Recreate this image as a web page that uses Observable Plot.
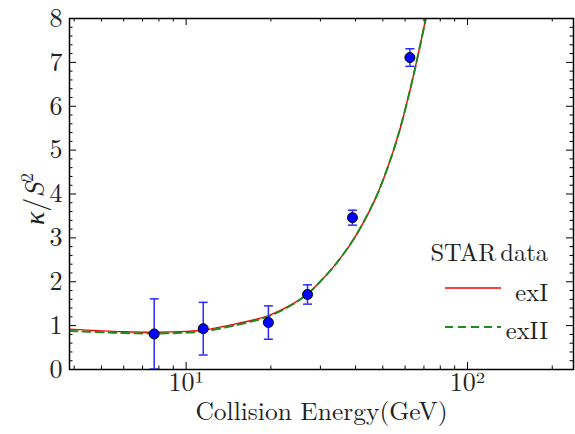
<!DOCTYPE html>
<html>
<head>
<meta charset="utf-8">
<script src="https://cdn.jsdelivr.net/npm/d3@7"></script>
<script src="https://cdn.jsdelivr.net/npm/@observablehq/plot@0.6"></script>
<style>
  html, body { margin: 0; padding: 0; background: white; }
  #wrap { position: relative; width: 575px; height: 434px; font-family: "Latin Modern Roman", "Liberation Serif", serif; }
  #wrap svg text, #wrap svg tspan { font-family: "Latin Modern Roman", "Liberation Serif", serif !important; }
  #legsvg { position: absolute; left: 0; top: 0; }
</style>
</head>
<body>
<div id="wrap"></div>
<script>
// STAR data points
const energy = [7.7, 11.5, 19.6, 27, 39, 62.4];
const kappa = [0.81, 0.93, 1.07, 1.71, 3.46, 7.11];
const kappaErr = [0.8, 0.6, 0.38, 0.22, 0.17, 0.2];

// model curves
const curveEnergy = [3.85, 5, 6, 7.7, 10, 11.5, 15, 19.6, 24, 27, 29.8, 33, 39.1, 46.7, 52, 57.3, 62.9, 67.4, 70.8, 72.5];
const exI  = [0.92, 0.88, 0.86, 0.85, 0.87, 0.90, 1.04, 1.23, 1.50, 1.72, 1.99, 2.30, 2.94, 3.85, 4.60, 5.44, 6.45, 7.30, 7.95, 8.30];
const exII = [0.88, 0.85, 0.83, 0.82, 0.84, 0.87, 1.01, 1.21, 1.49, 1.72, 1.99, 2.30, 2.94, 3.85, 4.60, 5.44, 6.45, 7.30, 7.95, 8.30];

// ticks
const yMajor = [0, 1, 2, 3, 4, 5, 6, 7, 8];
const yMinor = d3.range(0, 8.001, 0.2).filter(v => Math.abs(v - Math.round(v)) > 1e-6);
const xMajor = [10, 100];
const xMajorLabels = ["10¹", "10²"];
const xMinor = [4, 5, 6, 7, 8, 9, 20, 30, 40, 50, 60, 70, 80, 90, 200];

const FONT = "Latin Modern Roman, Liberation Serif, serif";
const W = 575, H = 434;
const mL = 69, mR = 2, mT = 18, mB = 65;
const pw = W - mL - mR, ph = H - mT - mB;

const points = energy.map((e, i) => ({e, k: kappa[i], lo: kappa[i] - kappaErr[i], hi: kappa[i] + kappaErr[i]}));
const c1 = curveEnergy.map((e, i) => ({e, v: exI[i]}));
const c2 = curveEnergy.map((e, i) => ({e, v: exII[i]}));

const capSymbol = {
  draw(ctx, size) {
    const w = Math.sqrt(size / Math.PI);
    ctx.moveTo(-w, 0);
    ctx.lineTo(w, 0);
  }
};

const blue = "#0000ff";
const errBlue = "#2a2aff";
const textColor = "#222";

const plot = Plot.plot({
  width: W, height: H,
  marginLeft: mL, marginRight: mR, marginTop: mT, marginBottom: mB,
  x: {type: "log", domain: [3.85, 238]},
  y: {domain: [0, 8]},
  style: {fontSize: "26px", background: "white", color: textColor, overflow: "visible"},
  marks: [
    // curves
    Plot.line(c1, {x: "e", y: "v", stroke: "#ff0000", strokeWidth: 1.4, curve: "catmull-rom", clip: true}),
    Plot.line(c2, {x: "e", y: "v", stroke: "#1f8a1f", strokeWidth: 2, strokeDasharray: "8,5", curve: "catmull-rom", clip: true}),
    // error bars
    Plot.ruleX(points, {x: "e", y1: "lo", y2: "hi", stroke: errBlue, strokeWidth: 1.5, clip: true}),
    Plot.dot(points, {x: "e", y: "hi", symbol: capSymbol, r: 4.5, stroke: errBlue, strokeWidth: 1.5, fill: "none"}),
    Plot.dot(points, {x: "e", y: "lo", symbol: capSymbol, r: 4.5, stroke: errBlue, strokeWidth: 1.5, fill: "none", clip: true}),
    Plot.dot(points, {x: "e", y: "k", r: 5, fill: blue, stroke: "black", strokeWidth: 1}),
    // inward ticks: left / right
    Plot.tickY(yMajor, {y: d => d, insetRight: pw - 7, stroke: "black", strokeWidth: 1}),
    Plot.tickY(yMajor, {y: d => d, insetLeft: pw - 7, stroke: "black", strokeWidth: 1}),
    Plot.tickY(yMinor, {y: d => d, insetRight: pw - 3.5, stroke: "black", strokeWidth: 1}),
    Plot.tickY(yMinor, {y: d => d, insetLeft: pw - 3.5, stroke: "black", strokeWidth: 1}),
    // inward ticks: bottom / top
    Plot.tickX(xMajor, {x: d => d, insetTop: ph - 7, stroke: "black", strokeWidth: 1}),
    Plot.tickX(xMajor, {x: d => d, insetBottom: ph - 7, stroke: "black", strokeWidth: 1}),
    Plot.tickX(xMinor, {x: d => d, insetTop: ph - 3.5, stroke: "black", strokeWidth: 1}),
    Plot.tickX(xMinor, {x: d => d, insetBottom: ph - 3.5, stroke: "black", strokeWidth: 1}),
    Plot.frame({stroke: "black", strokeWidth: 1.5}),
    // axis labels
    Plot.axisY({ticks: yMajor, tickSize: 0, tickPadding: 7, tickFormat: d => String(d), label: null, fontSize: 26, fontFamily: FONT}),
    Plot.axisX({ticks: xMajor, tickSize: 0, tickPadding: 3, tickFormat: d => xMajorLabels[xMajor.indexOf(d)], label: null, fontSize: 26, fontFamily: FONT}),
    Plot.text(["Collision Energy(GeV)"], {text: d => d, frameAnchor: "bottom", dy: 50, fontSize: 25.5, fontFamily: FONT})
  ]
});

const wrap = document.getElementById("wrap");
wrap.appendChild(plot);

// overlay: y label with mixed styles, and legend
const ns = "http://www.w3.org/2000/svg";
const lsvg = document.createElementNS(ns, "svg");
lsvg.setAttribute("id", "legsvg");
lsvg.setAttribute("width", W);
lsvg.setAttribute("height", H);

const ylab = document.createElementNS(ns, "text");
ylab.setAttribute("transform", "translate(44,199) rotate(-90)");
ylab.setAttribute("text-anchor", "middle");
ylab.setAttribute("font-size", "28");
ylab.setAttribute("fill", textColor);
[["κ", "italic", null, 0], ["/", "normal", null, 0], ["S", "italic", null, 0], ["2", "normal", "18", -11]].forEach(([s, st, fs, dy]) => {
  const ts = document.createElementNS(ns, "tspan");
  ts.setAttribute("font-style", st);
  if (fs) ts.setAttribute("font-size", fs);
  if (dy) ts.setAttribute("dy", dy);
  ts.textContent = s;
  ylab.appendChild(ts);
});
lsvg.appendChild(ylab);

const legendItems = [
  {label: "STAR data", y: 250, line: null},
  {label: "exI", y: 290, line: {color: "#ff0000", dash: null, w: 1.4, y: 288}},
  {label: "exII", y: 328, line: {color: "#1f8a1f", dash: "8,5", w: 2, y: 327}}
];
legendItems.forEach(it => {
  const t = document.createElementNS(ns, "text");
  t.setAttribute("x", 548);
  t.setAttribute("y", it.y);
  t.setAttribute("text-anchor", "end");
  t.setAttribute("dominant-baseline", "central");
  t.setAttribute("font-size", "24.5");
  t.setAttribute("word-spacing", "-4");
  t.setAttribute("fill", textColor);
  t.textContent = it.label;
  lsvg.appendChild(t);
  if (it.line) {
    const l = document.createElementNS(ns, "line");
    l.setAttribute("x1", 445); l.setAttribute("x2", 501);
    l.setAttribute("y1", it.line.y); l.setAttribute("y2", it.line.y);
    l.setAttribute("stroke", it.line.color);
    l.setAttribute("stroke-width", it.line.w);
    if (it.line.dash) l.setAttribute("stroke-dasharray", it.line.dash);
    lsvg.appendChild(l);
  }
});
wrap.appendChild(lsvg);
</script>
</body>
</html>
